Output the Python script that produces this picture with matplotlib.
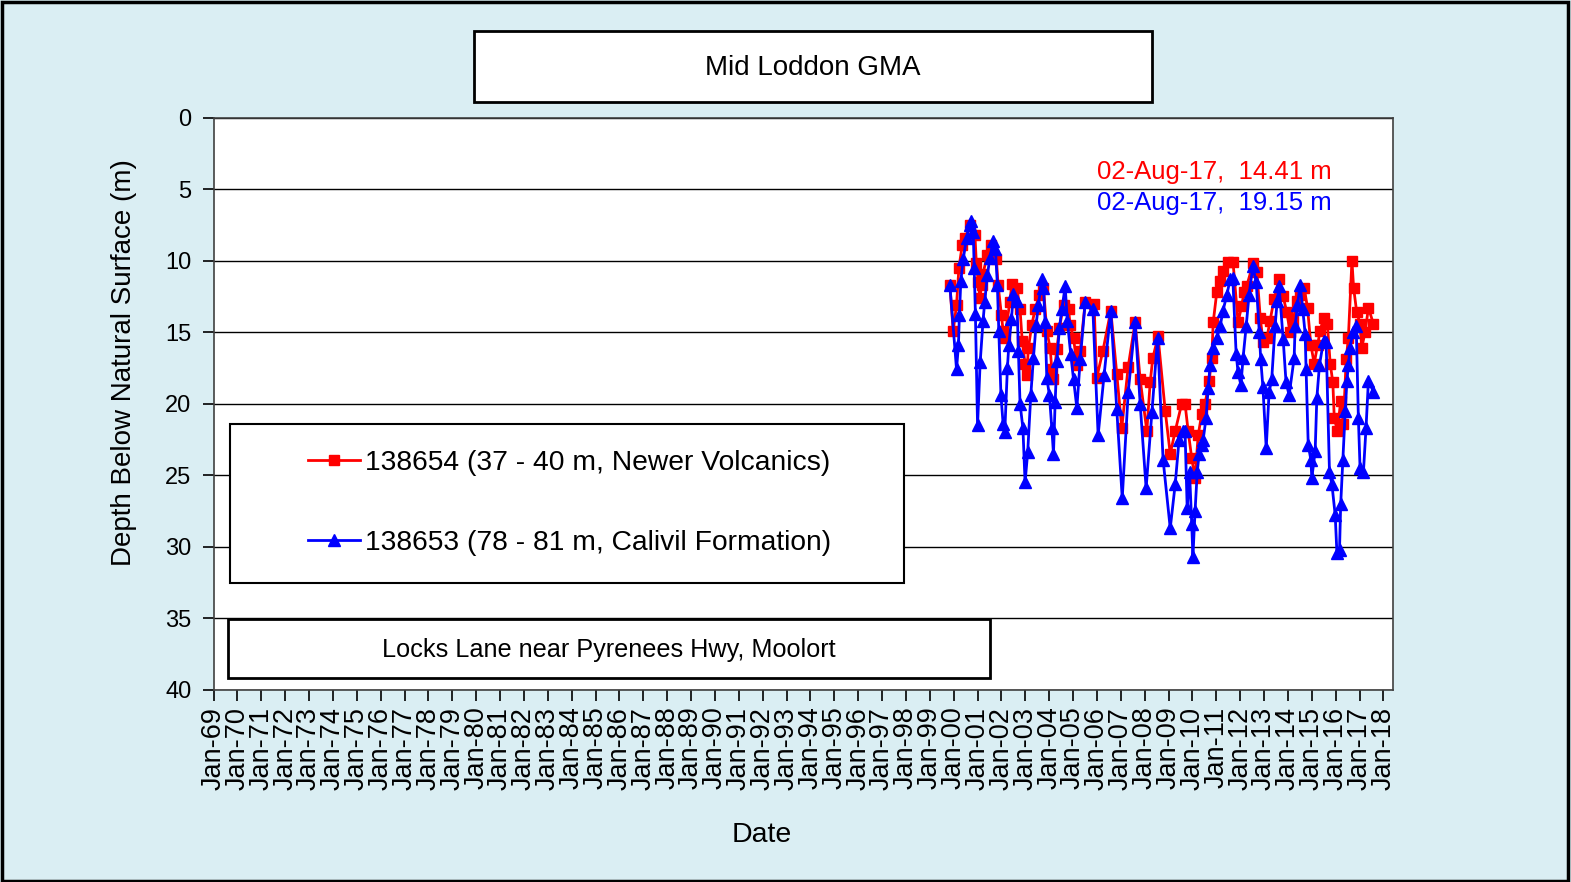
import numpy as np
import matplotlib
matplotlib.use("Agg")
import matplotlib.pyplot as plt
from matplotlib.patches import Rectangle

plt.rcParams['font.family'] = ['Liberation Sans', 'DejaVu Sans']

# bore 138654 (shallow, red) - decimal year, depth (m)
t_red = [1999.84, 1999.98, 2000.12, 2000.22, 2000.36, 2000.49, 2000.68, 2000.89, 2000.95, 2001.03,
         2001.10, 2001.17, 2001.23, 2001.41, 2001.58, 2001.79, 2001.86, 2002.00, 2002.07, 2002.14,
         2002.35, 2002.44, 2002.65, 2002.78, 2002.87, 2002.99, 2003.06, 2003.13, 2003.27, 2003.41,
         2003.59, 2003.76, 2003.90, 2004.04, 2004.11, 2004.18, 2004.32, 2004.43, 2004.60, 2004.81,
         2004.88, 2005.02, 2005.16, 2005.30, 2005.51, 2005.88, 2005.99, 2006.25, 2006.58, 2006.83,
         2007.04, 2007.31, 2007.60, 2007.81, 2008.09, 2008.23, 2008.34, 2008.56, 2008.86, 2009.07,
         2009.28, 2009.55, 2009.69, 2009.82, 2009.97, 2010.11, 2010.24, 2010.39, 2010.53, 2010.70,
         2010.81, 2010.87, 2011.02, 2011.16, 2011.28, 2011.49, 2011.70, 2011.91, 2012.06, 2012.16,
         2012.27, 2012.54, 2012.70, 2012.84, 2012.96, 2013.12, 2013.25, 2013.42, 2013.63, 2013.80,
         2013.95, 2014.09, 2014.22, 2014.37, 2014.51, 2014.68, 2014.82, 2014.96, 2015.10, 2015.24,
         2015.35, 2015.49, 2015.65, 2015.77, 2015.88, 2015.94, 2016.07, 2016.21, 2016.32, 2016.44,
         2016.53, 2016.68, 2016.75, 2016.88, 2017.02, 2017.09, 2017.23, 2017.37, 2017.58]
d_red = [11.7, 14.9, 13.1, 10.5, 8.9, 8.4, 7.5, 8.2, 10.2, 11.5,
         12.6, 11.7, 10.9, 9.6, 8.9, 9.9, 11.7, 13.8, 14.9, 15.4,
         12.9, 11.6, 11.9, 13.4, 15.6, 17.2, 18.0, 16.1, 14.5, 13.4,
         12.4, 11.9, 14.9, 16.1, 17.6, 18.3, 16.2, 14.7, 13.1, 13.4,
         14.5, 15.4, 17.3, 16.3, 12.9, 13.0, 18.2, 16.3, 13.5, 17.9,
         21.7, 17.4, 14.3, 18.3, 21.9, 18.5, 16.8, 15.3, 20.5, 23.5,
         21.9, 20.0, 20.0, 21.9, 23.8, 25.2, 22.2, 20.7, 20.0, 18.4,
         16.8, 14.3, 12.2, 11.4, 10.7, 10.1, 10.1, 14.3, 13.2, 12.2,
         11.8, 10.2, 10.8, 14.0, 15.7, 15.4, 14.2, 12.7, 11.3, 12.5,
         13.6, 15.0, 14.2, 12.8, 12.4, 11.9, 13.3, 15.9, 17.2, 15.9,
         14.9, 14.0, 14.4, 17.2, 18.5, 21.0, 21.9, 19.8, 21.4, 16.9,
         15.4, 10.0, 11.9, 13.6, 14.4, 16.1, 15.0, 13.3, 14.41]

# bore 138653 (deep, blue)
t_blue = [1999.84, 2000.12, 2000.20, 2000.24, 2000.30, 2000.40, 2000.54, 2000.68, 2000.74, 2000.82,
          2000.86, 2000.91, 2001.00, 2001.11, 2001.23, 2001.30, 2001.41, 2001.52, 2001.65, 2001.75,
          2001.83, 2001.89, 2001.98, 2002.07, 2002.14, 2002.25, 2002.31, 2002.42, 2002.50, 2002.65,
          2002.71, 2002.78, 2002.90, 2002.99, 2003.10, 2003.23, 2003.34, 2003.45, 2003.55, 2003.69,
          2003.76, 2003.83, 2003.90, 2004.01, 2004.11, 2004.18, 2004.25, 2004.32, 2004.43, 2004.53,
          2004.67, 2004.76, 2004.90, 2005.02, 2005.16, 2005.30, 2005.51, 2005.83, 2006.05, 2006.30,
          2006.58, 2006.83, 2007.06, 2007.31, 2007.60, 2007.81, 2008.06, 2008.30, 2008.54, 2008.77,
          2009.07, 2009.28, 2009.44, 2009.61, 2009.69, 2009.78, 2009.88, 2009.97, 2010.02, 2010.11,
          2010.20, 2010.28, 2010.39, 2010.45, 2010.57, 2010.66, 2010.74, 2010.85, 2011.02, 2011.16,
          2011.28, 2011.44, 2011.58, 2011.69, 2011.83, 2011.91, 2012.03, 2012.12, 2012.25, 2012.37,
          2012.53, 2012.67, 2012.80, 2012.86, 2012.95, 2013.09, 2013.21, 2013.32, 2013.46, 2013.55,
          2013.63, 2013.80, 2013.92, 2014.05, 2014.26, 2014.30, 2014.40, 2014.51, 2014.62, 2014.72,
          2014.76, 2014.85, 2014.96, 2015.00, 2015.14, 2015.21, 2015.32, 2015.49, 2015.60, 2015.74,
          2015.84, 2015.98, 2016.05, 2016.16, 2016.21, 2016.30, 2016.40, 2016.47, 2016.53, 2016.60,
          2016.72, 2016.86, 2016.95, 2017.02, 2017.16, 2017.27, 2017.37, 2017.58]
d_blue = [11.7, 17.6, 15.9, 13.8, 11.4, 9.9, 8.4, 7.5, 7.2, 8.0,
          10.5, 13.7, 21.5, 17.1, 14.2, 12.9, 11.0, 9.8, 8.6, 9.2,
          11.7, 14.9, 19.4, 21.4, 22.0, 17.5, 15.9, 14.1, 12.3, 12.8,
          16.3, 20.0, 21.7, 25.5, 23.4, 19.4, 16.8, 14.5, 13.1, 11.3,
          11.9, 14.3, 18.2, 19.4, 21.7, 23.5, 19.9, 17.0, 14.7, 13.4,
          11.8, 14.2, 16.5, 18.3, 20.3, 16.9, 12.9, 13.4, 22.2, 18.0,
          13.5, 20.4, 26.6, 19.2, 14.3, 20.0, 25.9, 20.6, 15.4, 23.9,
          28.7, 25.6, 22.5, 21.9, 21.9, 27.3, 24.8, 28.4, 30.7, 27.5,
          24.8, 23.5, 22.9, 22.5, 21.0, 18.9, 17.3, 16.1, 15.4, 14.6,
          13.5, 12.4, 11.3, 11.2, 16.5, 17.8, 18.7, 16.8, 14.6, 12.4,
          10.4, 11.5, 15.0, 16.9, 18.8, 23.1, 19.2, 18.3, 14.6, 12.8,
          11.8, 15.5, 18.5, 19.4, 16.8, 14.6, 13.1, 11.7, 13.4, 15.1,
          17.6, 22.9, 23.9, 25.2, 23.3, 19.6, 17.3, 15.6, 15.7, 24.8,
          25.6, 27.8, 30.4, 30.2, 27.0, 23.9, 20.5, 18.4, 17.3, 16.1,
          15.0, 14.6, 21.0, 24.5, 24.8, 21.7, 18.4, 19.15]

years = list(range(1969, 2019))
year_labels = ['Jan-%02d' % (y % 100) for y in years]

W, H = 1571, 882
bg = '#DAEEF3'

fig = plt.figure(figsize=(W / 100, H / 100), dpi=100, facecolor=bg)

def fx(px):
    return px / W

def fy(py):
    return 1 - py / H

ax = fig.add_axes([fx(213.5), fy(690), fx(1393) - fx(213.5), fy(117.5) - fy(690)])
ax.set_facecolor('white')

ax.plot(t_red, d_red, color='red', marker='s', markersize=6.5, linewidth=2, zorder=3,
        label='138654 (37 - 40 m, Newer Volcanics)')
ax.plot(t_blue, d_blue, color='blue', marker='^', markersize=8.5, linewidth=2, zorder=4,
        label='138653 (78 - 81 m, Calivil Formation)')

ax.set_xlim(1969, 2018.4)
ax.set_ylim(40, 0)
ax.set_yticks(range(0, 41, 5))
ax.tick_params(axis='y', labelsize=17, length=8, width=1.2, direction='out', pad=8)
ax.set_xticks(years)
ax.set_xticklabels(year_labels, rotation=90, fontsize=19.5)
ax.tick_params(axis='x', length=8, width=1.2, direction='out', pad=4)
ax.grid(axis='y', color='black', linewidth=1)
ax.set_axisbelow(True)
for s in ax.spines.values():
    s.set_linewidth(1.2)
    s.set_color('#404040')

fig.text(fx(124), fy(363), 'Depth Below Natural Surface (m)', fontsize=20, rotation=90,
         ha='center', va='center')
fig.text(fx(762), fy(835), 'Date', fontsize=20.5, ha='center', va='center')

ax.text(2015.85, 3.8, '02-Aug-17,  14.41 m', color='red', fontsize=18.5, ha='right', va='center')
ax.text(2015.85, 5.95, '02-Aug-17,  19.15 m', color='blue', fontsize=18.5, ha='right', va='center')

# title box
fig.patches.append(Rectangle((fx(474), fy(102)), fx(1152) - fx(474), fy(31) - fy(102),
                             transform=fig.transFigure, facecolor='white', edgecolor='black',
                             linewidth=2, zorder=5))
fig.text(fx(813), fy(68), 'Mid Loddon GMA', fontsize=20, ha='center', va='center', zorder=6)

# site box
fig.patches.append(Rectangle((fx(228), fy(678)), fx(990) - fx(228), fy(619) - fy(678),
                             transform=fig.transFigure, facecolor='white', edgecolor='black',
                             linewidth=2, zorder=5))
fig.text(fx(609), fy(650), 'Locks Lane near Pyrenees Hwy, Moolort', fontsize=18.2,
         ha='center', va='center', zorder=6)

# legend box
fig.patches.append(Rectangle((fx(230), fy(583)), fx(904) - fx(230), fy(424) - fy(583),
                             transform=fig.transFigure, facecolor='white', edgecolor='black',
                             linewidth=1.5, zorder=5))
h, l = ax.get_legend_handles_labels()
leg = fig.legend(h, l, loc='center left', bbox_to_anchor=(fx(294), fy(503)), frameon=False,
                 fontsize=20.3, handlelength=1.85, handletextpad=0.18, labelspacing=1.9,
                 borderpad=0)
leg.set_zorder(6)

# outer border
fig.patches.append(Rectangle((0.001, 0.001), 0.997, 0.997, transform=fig.transFigure,
                             facecolor='none', edgecolor='black', linewidth=2.5, zorder=7))

fig.savefig('out.png', dpi=100, facecolor=bg)
